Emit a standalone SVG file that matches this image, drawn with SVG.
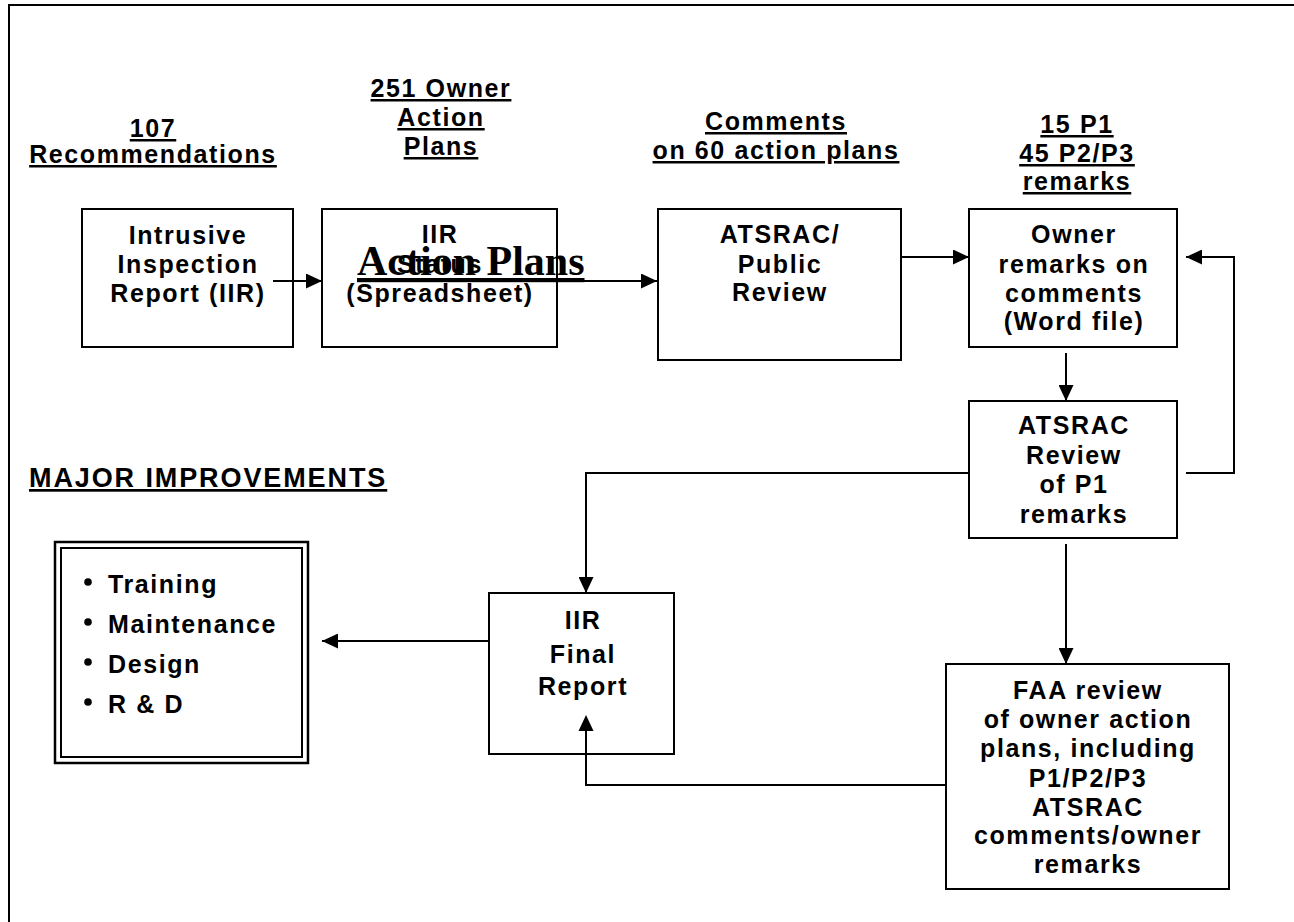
<svg xmlns="http://www.w3.org/2000/svg" width="1294" height="922" viewBox="0 0 1294 922">
  <defs>
    <marker id="arrow" markerUnits="userSpaceOnUse" markerWidth="16" markerHeight="15" refX="16" refY="7.5" orient="auto">
      <path d="M0,0 L16,7.5 L0,15 Z" fill="#000"/>
    </marker>
    <style>
      .t { font-family: "Liberation Sans", Arial, sans-serif; font-weight: bold; font-size: 25px; letter-spacing: 1.6px; text-anchor: middle; fill: #000; }
      .u { text-decoration: underline; }
      .s { text-anchor: start; }
      .big { font-size: 27px; letter-spacing: 1.9px; }
      .serif { font-family: "Liberation Serif", "Times New Roman", serif; font-weight: bold; font-size: 42px; letter-spacing: 0; text-anchor: start; text-decoration: underline; fill: #000; }
      .box { fill: #fff; stroke: #000; stroke-width: 2; }
      .conn line, .conn polyline { stroke: #000; stroke-width: 2; fill: none; marker-end: url(#arrow); }
      .frame { fill: none; stroke: #000; stroke-width: 2; }
    </style>
  </defs>
  <rect width="1294" height="922" fill="#fff"/>
  <rect class="frame" x="9" y="5" width="1300" height="930"/>

  <g id="label-recommendations">
    <text class="t u" x="153" y="137">107</text>
    <text class="t u" x="153" y="163">Recommendations</text>
  </g>
  <g id="label-owner-plans">
    <text class="t u" x="441" y="97">251 Owner</text>
    <text class="t u" x="441" y="126">Action</text>
    <text class="t u" x="441" y="155">Plans</text>
  </g>
  <g id="label-comments">
    <text class="t u" x="776" y="130">Comments</text>
    <text class="t u" x="776" y="159">on 60 action plans</text>
  </g>
  <g id="label-remarks">
    <text class="t u" x="1077" y="133">15 P1</text>
    <text class="t u" x="1077" y="162">45 P2/P3</text>
    <text class="t u" x="1077" y="190">remarks</text>
  </g>
  <g id="label-improvements">
    <text class="t s u big" x="29" y="487">MAJOR IMPROVEMENTS</text>
  </g>

  <g id="connectors" class="conn">
    <line x1="273" y1="281" x2="322" y2="281"/>
    <line x1="540" y1="281" x2="657" y2="281"/>
    <line x1="897" y1="257" x2="969" y2="257"/>
    <line x1="1066" y1="353" x2="1066" y2="401"/>
    <polyline points="1186,473 1234,473 1234,257 1186,257"/>
    <polyline points="969,473 586,473 586,593"/>
    <line x1="1066" y1="544" x2="1066" y2="664"/>
    <polyline points="946,785 586,785 586,715"/>
    <line x1="489" y1="641" x2="322" y2="641"/>
  </g>

  <g id="node-iir">
    <rect class="box" x="82" y="209" width="211" height="138"/>
    <text class="t" x="188" y="244">Intrusive</text>
    <text class="t" x="188" y="273">Inspection</text>
    <text class="t" x="188" y="302">Report (IIR)</text>
  </g>
  <line x1="273" y1="281" x2="306" y2="281" stroke="#000" stroke-width="2"/>

  <g id="node-status">
    <rect class="box" x="322" y="209" width="235" height="138"/>
    <text class="t" x="440" y="243">IIR</text>
    <text class="t" x="440" y="273">Status</text>
    <text class="t" x="440" y="302">(Spreadsheet)</text>
    <text class="serif" x="357" y="275">Action Plans</text>
  </g>
  <line x1="540" y1="281" x2="642" y2="281" stroke="#000" stroke-width="2"/>

  <g id="node-public">
    <rect class="box" x="658" y="209" width="243" height="151"/>
    <text class="t" x="780" y="243">ATSRAC/</text>
    <text class="t" x="780" y="273">Public</text>
    <text class="t" x="780" y="301">Review</text>
  </g>

  <g id="node-owner">
    <rect class="box" x="969" y="209" width="208" height="138"/>
    <text class="t" x="1074" y="243">Owner</text>
    <text class="t" x="1074" y="273">remarks on</text>
    <text class="t" x="1074" y="302">comments</text>
    <text class="t" x="1074" y="330">(Word file)</text>
  </g>

  <g id="node-atsrac">
    <rect class="box" x="969" y="401" width="208" height="137"/>
    <text class="t" x="1074" y="434">ATSRAC</text>
    <text class="t" x="1074" y="464">Review</text>
    <text class="t" x="1074" y="493">of P1</text>
    <text class="t" x="1074" y="523">remarks</text>
  </g>

  <g id="node-faa">
    <rect class="box" x="946" y="664" width="283" height="225"/>
    <text class="t" x="1088" y="699">FAA review</text>
    <text class="t" x="1088" y="728">of owner action</text>
    <text class="t" x="1088" y="757">plans, including</text>
    <text class="t" x="1088" y="787">P1/P2/P3</text>
    <text class="t" x="1088" y="816">ATSRAC</text>
    <text class="t" x="1088" y="844">comments/owner</text>
    <text class="t" x="1088" y="873">remarks</text>
  </g>

  <g id="node-final">
    <rect class="box" x="489" y="593" width="185" height="161"/>
    <text class="t" x="583" y="629">IIR</text>
    <text class="t" x="583" y="663">Final</text>
    <text class="t" x="583" y="695">Report</text>
  </g>
  <line x1="586" y1="785" x2="586" y2="730" stroke="#000" stroke-width="2"/>
  <path d="M578.5,731 L586,715 L593.5,731 Z" fill="#000"/>

  <g id="node-improvements">
    <rect x="55" y="542" width="253" height="221" fill="#fff" stroke="#000" stroke-width="2.5"/>
    <rect x="61" y="548" width="241" height="209" fill="none" stroke="#000" stroke-width="2"/>
    <circle cx="88" cy="582" r="3.8" fill="#000"/>
    <circle cx="88" cy="622" r="3.8" fill="#000"/>
    <circle cx="88" cy="662" r="3.8" fill="#000"/>
    <circle cx="88" cy="702" r="3.8" fill="#000"/>
    <text class="t s" x="108" y="593">Training</text>
    <text class="t s" x="108" y="633">Maintenance</text>
    <text class="t s" x="108" y="673">Design</text>
    <text class="t s" x="108" y="713">R &amp; D</text>
  </g>
</svg>
